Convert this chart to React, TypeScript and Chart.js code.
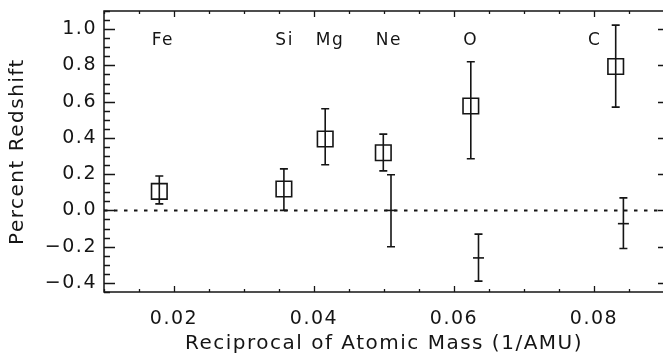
import { useEffect, useRef } from 'react';
import { Chart, registerables } from 'chart.js';
Chart.register(...registerables);

// element labels
const ELEMENTS = ['Fe', 'Si', 'Mg', 'Ne', 'O', 'C'];
const LABEL_X = [0.0184, 0.0358, 0.0423, 0.0507, 0.0624, 0.0801];
const LABEL_Y = 0.935;

// square markers with error bars
const SQ_X = [0.0179, 0.0357, 0.0416, 0.0499, 0.0624, 0.0831];
const SQ_Y = [0.105, 0.118, 0.394, 0.318, 0.576, 0.794];
const SQ_LOW = [0.036, 0.0, 0.252, 0.218, 0.285, 0.57];
const SQ_HIGH = [0.19, 0.229, 0.561, 0.421, 0.82, 1.022];

// plain error-bar points
const CR_X = [0.051, 0.0635, 0.0842];
const CR_Y = [0.0, -0.262, -0.073];
const CR_LOW = [-0.2, -0.39, -0.21];
const CR_HIGH = [0.197, -0.131, 0.069];

// axes
const X_MIN = 0.01;
const X_MAX = 0.09;
const Y_MIN = -0.45;
const Y_MAX = 1.1;
const X_TICKS = [0.02, 0.04, 0.06, 0.08];
const Y_TICKS = [-0.4, -0.2, 0.0, 0.2, 0.4, 0.6, 0.8, 1.0];
const X_MINOR_STEP = 0.005;
const Y_MINOR_STEP = 0.05;

const FONT = 'DejaVu Sans';
const INK = '#151515';

const idlPlugin = {
  id: 'idlDecor',
  beforeDraw(chart: any) {
    chart.ctx.letterSpacing = '1.5px';
  },
  afterDatasetsDraw(chart: any) {
    const ctx = chart.ctx;
    const xs = chart.scales.x;
    const ys = chart.scales.y;
    ctx.save();
    ctx.strokeStyle = INK;
    ctx.lineWidth = 1.6;
    const bar = (x: number, lo: number, hi: number) => {
      const px = xs.getPixelForValue(x);
      const p1 = ys.getPixelForValue(lo);
      const p2 = ys.getPixelForValue(hi);
      const cap = 4;
      ctx.beginPath();
      ctx.moveTo(px, p1);
      ctx.lineTo(px, p2);
      ctx.moveTo(px - cap, p1);
      ctx.lineTo(px + cap, p1);
      ctx.moveTo(px - cap, p2);
      ctx.lineTo(px + cap, p2);
      ctx.stroke();
    };
    SQ_X.forEach((x, i) => bar(x, SQ_LOW[i], SQ_HIGH[i]));
    CR_X.forEach((x, i) => bar(x, CR_LOW[i], CR_HIGH[i]));

    // frame
    const a = chart.chartArea;
    ctx.lineWidth = 1.5;
    ctx.strokeRect(a.left, a.top, a.right - a.left, a.bottom - a.top);

    // ticks
    ctx.lineWidth = 1.3;
    ctx.beginPath();
    const nY = Math.round((Y_MAX - Y_MIN) / Y_MINOR_STEP);
    for (let k = 0; k <= nY; k++) {
      const v = Y_MIN + k * Y_MINOR_STEP;
      const major = Y_TICKS.some((t) => Math.abs(t - v) < 1e-6);
      const py = Math.round(ys.getPixelForValue(v)) + 0.5;
      const len = major ? 11 : 6;
      ctx.moveTo(a.left, py);
      ctx.lineTo(a.left + len, py);
      if (major) {
        ctx.moveTo(a.right, py);
        ctx.lineTo(a.right - 6, py);
      }
    }
    const nX = Math.round((X_MAX - X_MIN) / X_MINOR_STEP);
    for (let k = 0; k <= nX; k++) {
      const v = X_MIN + k * X_MINOR_STEP;
      const major = X_TICKS.some((t) => Math.abs(t - v) < 1e-6);
      const px = Math.round(xs.getPixelForValue(v)) + 0.5;
      const len = major ? 6 : 3;
      ctx.moveTo(px, a.bottom);
      ctx.lineTo(px, a.bottom - len);
      ctx.moveTo(px, a.top);
      ctx.lineTo(px, a.top + len);
    }
    ctx.stroke();

    // element labels
    ctx.fillStyle = INK;
    ctx.font = `17px "${FONT}"`;
    ctx.textAlign = 'center';
    ctx.textBaseline = 'middle';
    ELEMENTS.forEach((name, i) => {
      ctx.fillText(name, xs.getPixelForValue(LABEL_X[i]), ys.getPixelForValue(LABEL_Y));
    });
    ctx.restore();
  },
};

const zeroPad = (s: any) => {
  s.paddingLeft = 0;
  s.paddingRight = 0;
  s.paddingTop = 0;
  s.paddingBottom = 0;
};

export default function App() {
  const ref = useRef<HTMLCanvasElement>(null);
  useEffect(() => {
    if (!ref.current) return;
    const chart = new Chart(ref.current, {
      type: 'scatter',
      data: {
        datasets: [
          {
            type: 'line',
            data: [
              { x: X_MIN, y: 0 },
              { x: X_MAX, y: 0 },
            ],
            borderColor: INK,
            borderWidth: 2,
            borderDash: [3.5, 6.5],
            pointRadius: 0,
            fill: false,
          } as any,
          {
            data: SQ_X.map((x, i) => ({ x, y: SQ_Y[i] })),
            pointStyle: 'rect',
            pointRadius: 11,
            borderColor: INK,
            borderWidth: 1.6,
            backgroundColor: 'rgba(0,0,0,0)',
            showLine: false,
          },
          {
            data: CR_X.map((x, i) => ({ x, y: CR_Y[i] })),
            pointStyle: 'line',
            pointRadius: 5.5,
            borderColor: INK,
            borderWidth: 1.6,
            backgroundColor: INK,
            showLine: false,
          },
        ],
      },
      options: {
        animation: false,
        responsive: false,
        events: [],
        layout: { autoPadding: false, padding: { top: 11, right: 5, left: 0, bottom: 0 } },
        plugins: { legend: { display: false }, tooltip: { enabled: false } },
        scales: {
          x: {
            type: 'linear',
            min: X_MIN,
            max: X_MAX,
            afterBuildTicks: (s: any) => {
              s.ticks = X_TICKS.map((v) => ({ value: v }));
            },
            afterFit: (s: any) => {
              s.height = 65;
              zeroPad(s);
            },
            grid: { display: false, drawTicks: false },
            border: { display: false },
            ticks: {
              callback: (v: any) => Number(v).toFixed(2),
              font: { family: FONT, size: 19 },
              color: INK,
              padding: 16,
              maxRotation: 0,
              autoSkip: false,
            },
            title: {
              display: true,
              text: 'Reciprocal of Atomic Mass (1/AMU)',
              font: { family: FONT, size: 20 },
              color: INK,
              padding: { top: 0, bottom: 1 },
            },
          },
          y: {
            type: 'linear',
            min: Y_MIN,
            max: Y_MAX,
            afterBuildTicks: (s: any) => {
              s.ticks = Y_TICKS.map((v) => ({ value: v }));
            },
            afterFit: (s: any) => {
              s.width = 104;
              zeroPad(s);
            },
            grid: { display: false, drawTicks: false },
            border: { display: false },
            ticks: {
              callback: (v: any) => {
                const n = Number(v);
                return (n < -1e-9 ? '\u2212' : '') + Math.abs(n).toFixed(1);
              },
              font: { family: FONT, size: 19 },
              color: INK,
              padding: 7,
              autoSkip: false,
            },
            title: {
              display: true,
              text: 'Percent Redshift',
              font: { family: FONT, size: 20 },
              color: INK,
              padding: { top: 6, bottom: 0 },
            },
          },
        },
      },
      plugins: [idlPlugin],
    } as any);
    return () => chart.destroy();
  }, []);
  return (
    <div
      style={{
        position: 'absolute',
        left: 0,
        top: 0,
        width: 663,
        height: 357,
        overflow: 'hidden',
        background: '#fff',
      }}
    >
      <canvas ref={ref} width={669} height={357} style={{ display: 'block' }} />
    </div>
  );
}
